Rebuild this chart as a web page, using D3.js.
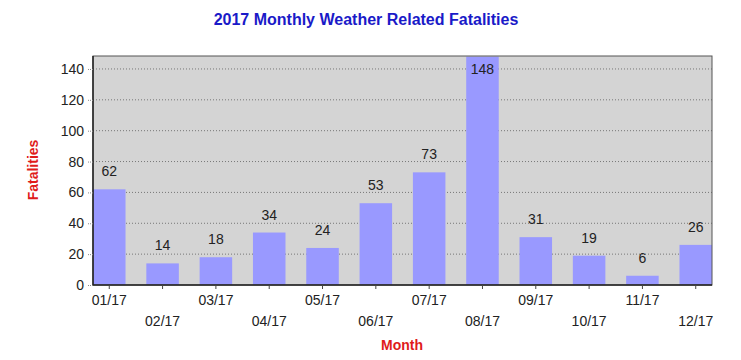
<!DOCTYPE html>
<html><head><meta charset="utf-8">
<script src="https://cdn.jsdelivr.net/npm/d3@7"></script>
<style>body{margin:0;background:#fff;} text{font-family:"Liberation Sans",Arial,sans-serif;}</style>
</head><body>
<svg id="c" width="741" height="360"></svg>
<script>
const months = ["01/17","02/17","03/17","04/17","05/17","06/17","07/17","08/17","09/17","10/17","11/17","12/17"];
const fatalities = [62,14,18,34,24,53,73,148,31,19,6,26];
const yTicks = [0,20,40,60,80,100,120,140];

const svg = d3.select("#c");
const m = {left:93, right:712, top:56, bottom:285};

const x = d3.scaleBand().domain(months).range([m.left, m.right]).paddingInner(0.39).paddingOuter(0);
const y = d3.scaleLinear().domain([0,148.4]).range([m.bottom, m.top]);

svg.append("rect").attr("x",m.left).attr("y",m.top).attr("width",m.right-m.left).attr("height",m.bottom-m.top).attr("fill","#d4d4d4");

// grid
svg.append("g").selectAll("line").data(yTicks.filter(d=>d>0)).join("line")
  .attr("x1",m.left).attr("x2",m.right).attr("y1",d=>y(d)).attr("y2",d=>y(d))
  .attr("stroke","#777").attr("stroke-width",1).attr("stroke-dasharray","1,2");

// bars
svg.append("g").selectAll("rect").data(fatalities).join("rect")
  .attr("x",(d,i)=>x(months[i])).attr("width",x.bandwidth())
  .attr("y",d=>Math.max(y(d),m.top)).attr("height",d=>m.bottom-Math.max(y(d),m.top))
  .attr("fill","#9999ff");

// value labels
svg.append("g").selectAll("text").data(fatalities).join("text")
  .attr("x",(d,i)=>x(months[i])+x.bandwidth()/2)
  .attr("y",d=>Math.max(y(d)-18, m.top+13)+5)
  .attr("text-anchor","middle").attr("font-size",14).attr("fill","#222")
  .text(d=>d);

// frame
svg.append("rect").attr("x",m.left).attr("y",m.top).attr("width",m.right-m.left).attr("height",m.bottom-m.top)
  .attr("fill","none").attr("stroke","#555").attr("stroke-width",1);
svg.append("line").attr("x1",m.left).attr("x2",m.left).attr("y1",m.top).attr("y2",m.bottom).attr("stroke","#222").attr("stroke-width",1.5);
svg.append("line").attr("x1",m.left).attr("x2",m.right).attr("y1",m.bottom).attr("y2",m.bottom).attr("stroke","#222").attr("stroke-width",1.5);

// y axis
const ya = svg.append("g").attr("transform",`translate(${m.left},0)`)
  .call(d3.axisLeft(y).tickValues(yTicks).tickSize(6).tickPadding(3));
ya.select(".domain").remove();
ya.selectAll("line").attr("stroke","#888").attr("stroke-dasharray","1,1");
ya.selectAll("text").attr("font-size",14).attr("fill","#222").attr("font-family","Liberation Sans, Arial, sans-serif");

// x axis
const xa = svg.append("g").attr("transform",`translate(0,${m.bottom})`)
  .call(d3.axisBottom(x).tickSize(4).tickPadding(6));
xa.select(".domain").remove();
xa.selectAll("line").attr("stroke","#444");
xa.selectAll("text").attr("font-size",14).attr("fill","#222").attr("font-family","Liberation Sans, Arial, sans-serif")
  .attr("dy",(d,i)=> i%2===0 ? "0.71em" : "2.2em");

// titles
svg.append("text").attr("x",366).attr("y",25).attr("text-anchor","middle")
  .attr("font-size",16).attr("font-weight","bold").attr("fill","#1a1ac8")
  .text("2017 Monthly Weather Related Fatalities");
svg.append("text").attr("x",402).attr("y",350).attr("text-anchor","middle")
  .attr("font-size",14).attr("font-weight","bold").attr("fill","#e01b1b").text("Month");
svg.append("text").attr("transform","translate(38,170) rotate(-90)").attr("text-anchor","middle")
  .attr("font-size",14).attr("font-weight","bold").attr("fill","#e01b1b").text("Fatalities");
</script>
</body></html>
